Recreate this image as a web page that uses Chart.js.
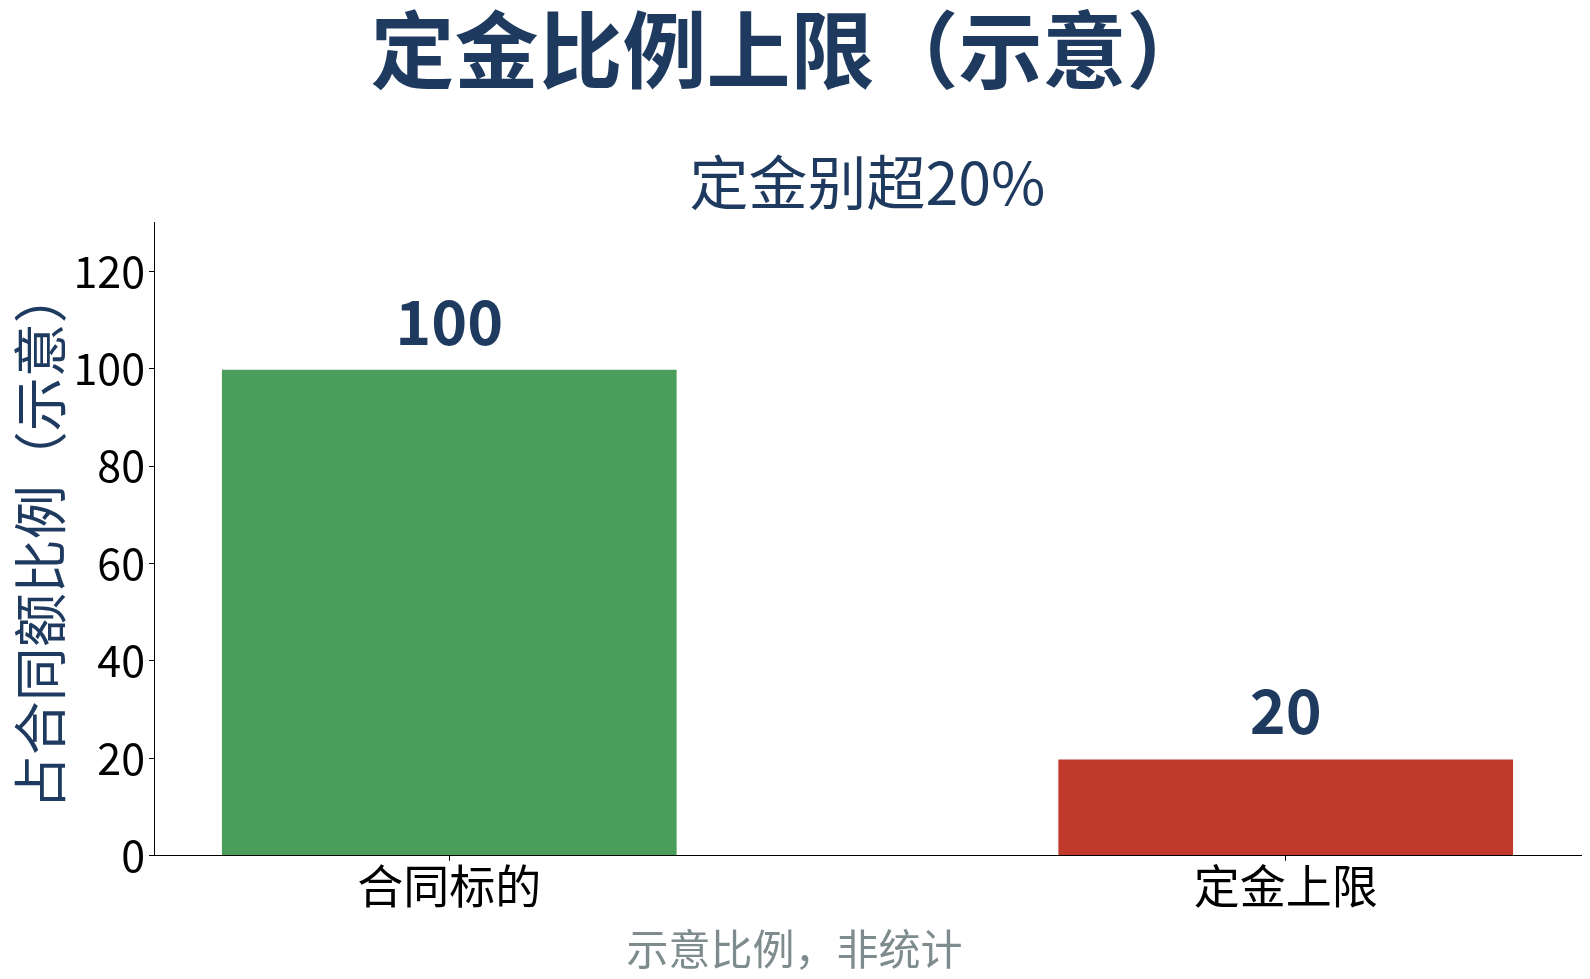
<!DOCTYPE html>
<html>
<head>
<meta charset="utf-8">
<script src="https://cdn.jsdelivr.net/npm/chart.js@4"></script>
<style>
  html, body { margin: 0; padding: 0; background: #fff; overflow: hidden; }
  canvas { display: block; }
</style>
</head>
<body>
<canvas id="grafico" width="1590" height="979"></canvas>
<script>
const categorias = ['合同标的', '定金上限'];
const valores = [100, 20];
const colores = ['#4a9d5b', '#c0392b'];
const ticksY = [0, 20, 40, 60, 80, 100, 120];

const FUENTE = "'Noto Sans CJK SC', 'Noto Sans', sans-serif";
const AZUL = '#1e3a5f';

// etiquetas de valor encima de cada barra + leyenda inferior
const etiquetas = {
  id: 'etiquetas',
  afterDatasetsDraw(chart) {
    const ctx = chart.ctx;
    const meta = chart.getDatasetMeta(0);
    ctx.save();
    ctx.font = 'bold 61px ' + FUENTE;
    ctx.fillStyle = AZUL;
    ctx.textAlign = 'center';
    ctx.textBaseline = 'alphabetic';
    meta.data.forEach((barra, i) => {
      ctx.fillText(String(valores[i]), barra.x, barra.y - 24);
    });
    ctx.restore();
  },
  afterDraw(chart) {
    const ctx = chart.ctx;
    const t = chart.titleBlock;
    ctx.save();
    ctx.font = '42px ' + FUENTE;
    ctx.fillStyle = '#7f8c8d';
    ctx.textAlign = 'center';
    ctx.textBaseline = 'middle';
    ctx.fillText('示意比例，非统计', t.left + t.width / 2 + 4, 949);
    ctx.restore();
  }
};

new Chart(document.getElementById('grafico'), {
  type: 'bar',
  data: {
    datasets: [{
      data: valores.map((v, i) => ({ x: i, y: v })),
      backgroundColor: colores,
      borderColor: '#ffffff',
      borderWidth: 1,
      categoryPercentage: 1,
      barPercentage: 0.546
    }]
  },
  options: {
    responsive: false,
    animation: false,
    layout: { padding: { left: 0, right: 9, top: 0, bottom: 69 } },
    plugins: {
      legend: { display: false },
      tooltip: { enabled: false },
      title: {
        display: true,
        text: '定金比例上限（示意）',
        color: AZUL,
        font: { family: FUENTE, size: 84, weight: 'bold', lineHeight: 1.2 },
        padding: { top: 0, bottom: 46 }
      },
      subtitle: {
        display: true,
        fullSize: false,
        text: '定金别超20%',
        color: AZUL,
        font: { family: FUENTE, size: 59, lineHeight: 1.2 },
        padding: { top: 0, bottom: 5 }
      }
    },
    scales: {
      x: {
        type: 'linear',
        offset: false,
        min: -0.353,
        max: 1.353,
        afterBuildTicks(scale) {
          scale.ticks = categorias.map((c, i) => ({ value: i }));
        },
        ticks: {
          color: '#000',
          font: { family: FUENTE, size: 46, lineHeight: 1.2 },
          padding: -3,
          maxRotation: 0,
          autoSkip: false,
          callback: v => categorias[v]
        },
        grid: { offset: false, drawOnChartArea: false, drawTicks: true, tickLength: 5, color: '#000' },
        border: { display: true, color: '#000', width: 1 }
      },
      y: {
        min: 0,
        max: 130,
        afterBuildTicks(scale) {
          scale.ticks = ticksY.map(v => ({ value: v }));
        },
        afterFit(scale) {
          scale.width = 154;
        },
        ticks: {
          color: '#000',
          font: { family: FUENTE, size: 43, lineHeight: 1.2 },
          padding: 4
        },
        grid: { drawOnChartArea: false, drawTicks: true, tickLength: 5, color: '#000' },
        border: { display: true, color: '#000', width: 1 },
        title: {
          display: true,
          text: '占合同额比例（示意）',
          color: AZUL,
          font: { family: FUENTE, size: 54, lineHeight: 1.2 },
          padding: { top: 8, bottom: 0 }
        }
      }
    }
  },
  plugins: [etiquetas]
});
</script>
</body>
</html>
